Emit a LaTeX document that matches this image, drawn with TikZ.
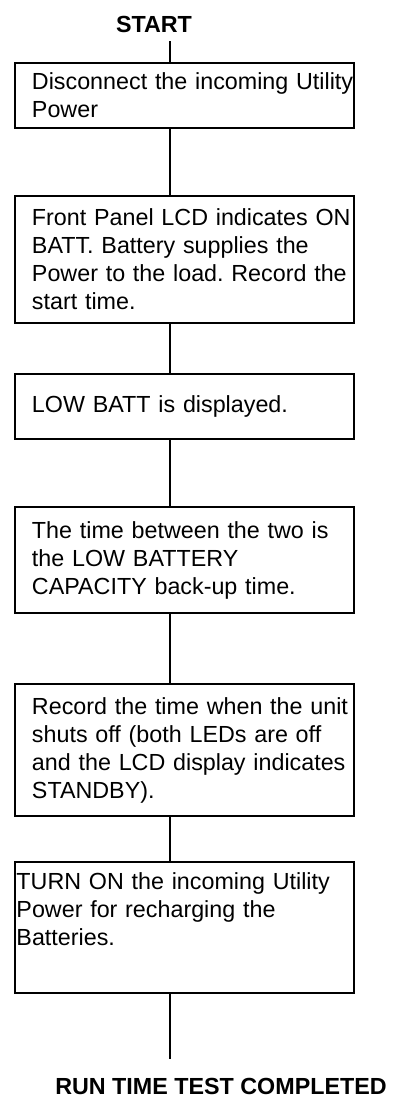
\documentclass[tikz,border=0pt]{standalone}
\usepackage{fontspec}
\setmainfont{Liberation Sans}
\frenchspacing
\usetikzlibrary{positioning}

\newcommand{\flowfont}{\fontsize{23.3pt}{28pt}\selectfont}
\tikzset{
  stepbox/.style={draw, line width=2pt, inner xsep=0pt, inner ysep=0pt,
    text width=339pt, align=left, font=\flowfont,
    execute at begin node={\leftskip=#1}},
  stepbox/.default=17pt,
  termtext/.style={font=\flowfont\bfseries, inner xsep=0pt},
  link/.style={line width=2.4pt}
}

\begin{document}
\begin{tikzpicture}[x=1pt,y=-1pt]
\useasboundingbox (0,0) rectangle (394,1100);
\coordinate (spine) at (170,0);
\node (start) [termtext, anchor=base, inner ysep=8.5pt] at (154,32.5) {START};
\node (disconnect) [stepbox, minimum height=65pt, anchor=north] at (184.5,62)
  {Disconnect the incoming Utility\\Power};
\node (onbatt) [stepbox, minimum height=127pt, below=66pt of disconnect]
  {Front Panel LCD indicates ON\\BATT. Battery supplies the\\Power to the load. Record the\\start time.};
\node (lowbatt) [stepbox, minimum height=65pt, below=49pt of onbatt]
  {LOW BATT is displayed.};
\node (backup) [stepbox, minimum height=106pt, below=66pt of lowbatt]
  {The time between the two is\\the LOW BATTERY\\CAPACITY back-up time.};
\node (shutoff) [stepbox, minimum height=132pt, below=69pt of backup]
  {Record the time when the unit\\shuts off (both LEDs are off\\and the LCD display indicates\\STANDBY).};
\node (turnon) [stepbox=1.5pt, minimum height=131pt, below=44pt of shutoff]
  {TURN ON the incoming Utility\\Power for recharging the\\Batteries.\\\strut};
\node (done) [termtext, anchor=base, inner ysep=0pt, text height=35pt, text depth=0pt]
  at (221,1094.5) {RUN TIME TEST COMPLETED};
% connectors run down the spine, off centre
\draw[link] (start.south -| spine) -- (disconnect.north -| spine);
\draw[link] (disconnect.south -| spine) -- (onbatt.north -| spine);
\draw[link] (onbatt.south -| spine) -- (lowbatt.north -| spine);
\draw[link] (lowbatt.south -| spine) -- (backup.north -| spine);
\draw[link] (backup.south -| spine) -- (shutoff.north -| spine);
\draw[link] (shutoff.south -| spine) -- (turnon.north -| spine);
\draw[link] (turnon.south -| spine) -- (done.north -| spine);
\end{tikzpicture}
\end{document}
